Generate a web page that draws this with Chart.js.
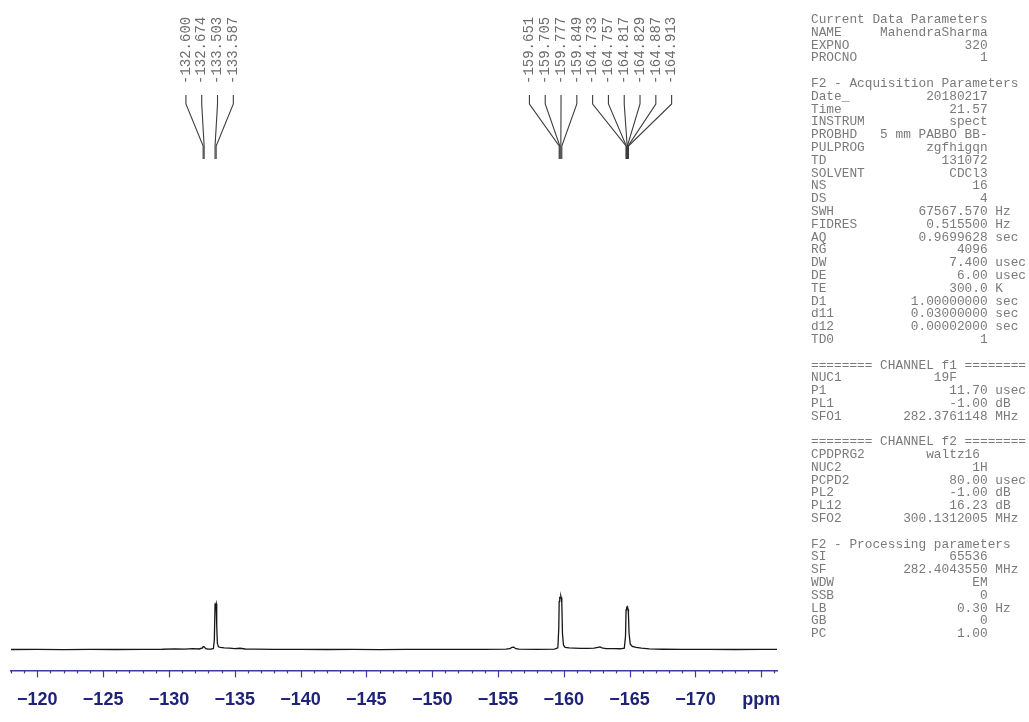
<!DOCTYPE html>
<html>
<head>
<meta charset="utf-8">
<script src="https://cdn.jsdelivr.net/npm/chart.js@4.4.1/dist/chart.umd.min.js"></script>
<style>
  html, body { margin: 0; padding: 0; background: #ffffff; }
  #wrap { position: relative; width: 1029px; height: 722px; overflow: hidden; }
  #params {
    position: absolute; left: 811px; top: 14px; margin: 0;
    font: 12.8px/12.8px "Liberation Mono", "DejaVu Sans Mono", monospace;
    color: #7a7a7a; white-space: pre;
  }
</style>
</head>
<body>
<div id="wrap">
  <canvas id="spectrum" width="1029" height="722"></canvas>
  <pre id="params"></pre>
</div>
<script>
// 19F spectrum: chemical shift (ppm) and intensity (tallest line = 100)
const shiftPpm = [
  -118.0, -120.0, -122.0, -124.0, -126.0, -128.0, -129.5, -130.5, -131.2, -131.8,
  -132.3, -132.55, -132.600, -132.674, -132.80, -132.95, -133.2, -133.38, -133.45, -133.503,
  -133.545, -133.587, -133.63, -133.68, -133.76, -133.9, -134.2, -134.6, -135.0, -135.4,
  -135.8, -136.5, -138.0, -140.0, -142.0, -144.0, -146.0, -148.0, -150.0, -152.0,
  -154.0, -155.6, -155.9, -156.05, -156.2, -156.35, -156.6, -158.0, -159.3, -159.55,
  -159.62, -159.651, -159.68, -159.705, -159.74, -159.777, -159.81, -159.849, -159.9, -159.98,
  -160.1, -160.4, -160.8, -161.3, -161.8, -162.3, -162.6, -162.75, -162.9, -163.2,
  -163.8, -164.3, -164.6, -164.69, -164.733, -164.757, -164.79, -164.817, -164.829, -164.86,
  -164.887, -164.913, -164.96, -165.05, -165.2, -165.5, -165.9, -166.5, -167.5, -169.0,
  -171.0, -173.0, -175.0, -176.2
];
const intensity = [
  0.0, 0.3, -0.2, 0.4, 0.0, 0.3, 0.5, 1.2, 0.8, 1.5,
  1.0, 3.0, 5.5, 5.0, 1.5, 1.0, 0.8, 2.0, 18, 84,
  83, 86, 45, 12, 5, 4, 3, 2.5, 1.8, 2.4,
  1.0, 0.6, 0.2, 0.4, 0.0, 0.3, -0.1, 0.3, 0.1, 0.4,
  0.2, 0.6, 1.5, 4.0, 4.5, 1.5, 0.6, 0.4, 0.6, 3.0,
  40, 90, 95, 97, 96.5, 100, 97, 88, 30, 8,
  4, 3, 2.5, 2.0, 2.0, 2.5, 4.0, 4.8, 3.0, 1.8,
  1.5, 1.4, 2.5, 25, 74, 78, 77.5, 80, 81, 79,
  75, 66, 30, 10, 6, 4, 2.5, 1.2, 0.5, 0.2,
  0.4, 0.0, 0.3, 0.1
];

// picked peak positions (ppm), two label groups
const peakGroupA = [-132.600, -132.674, -133.503, -133.587];
const peakGroupB = [-159.651, -159.705, -159.777, -159.849, -164.733,
                    -164.757, -164.817, -164.829, -164.887, -164.913];

// axis range and labelling
const shiftMin = -176.2;
const shiftMax = -118.0;
const majorTickStep = 5;
const unitTickValue = -175;
const unitLabel = 'ppm';

// acquisition / processing parameter listing
const paramRows = [
  ['Current Data Parameters'],
  ['NAME', 'MahendraSharma'],
  ['EXPNO', '320'],
  ['PROCNO', '1'],
  [],
  ['F2 - Acquisition Parameters'],
  ['Date_', '20180217'],
  ['Time', '21.57'],
  ['INSTRUM', 'spect'],
  ['PROBHD', '5 mm PABBO BB-'],
  ['PULPROG', 'zgfhigqn'],
  ['TD', '131072'],
  ['SOLVENT', 'CDCl3'],
  ['NS', '16'],
  ['DS', '4'],
  ['SWH', '67567.570', 'Hz'],
  ['FIDRES', '0.515500', 'Hz'],
  ['AQ', '0.9699628', 'sec'],
  ['RG', '4096'],
  ['DW', '7.400', 'usec'],
  ['DE', '6.00', 'usec'],
  ['TE', '300.0', 'K'],
  ['D1', '1.00000000', 'sec'],
  ['d11', '0.03000000', 'sec'],
  ['d12', '0.00002000', 'sec'],
  ['TD0', '1'],
  [],
  ['======== CHANNEL f1 ========'],
  ['NUC1', '19F    '],
  ['P1', '11.70', 'usec'],
  ['PL1', '-1.00', 'dB'],
  ['SFO1', '282.3761148', 'MHz'],
  [],
  ['======== CHANNEL f2 ========'],
  ['CPDPRG2', 'waltz16 '],
  ['NUC2', '1H'],
  ['PCPD2', '80.00', 'usec'],
  ['PL2', '-1.00', 'dB'],
  ['PL12', '16.23', 'dB'],
  ['SFO2', '300.1312005', 'MHz'],
  [],
  ['F2 - Processing parameters'],
  ['SI', '65536'],
  ['SF', '282.4043550', 'MHz'],
  ['WDW', 'EM'],
  ['SSB', '0'],
  ['LB', '0.30', 'Hz'],
  ['GB', '0'],
  ['PC', '1.00']
];

const FIELD = 23;
document.getElementById('params').textContent = paramRows.map(r => {
  if (r.length === 0) return '';
  if (r.length === 1) return r[0];
  const line = r[0] + r[1].padStart(FIELD - r[0].length);
  return r[2] ? line + ' ' + r[2] : line;
}).join('\n');

// minor/major tick marks hanging below the shift axis
const tickMarks = {
  id: 'tickMarks',
  afterDraw(chart) {
    const s = chart.scales.x, ctx = chart.ctx, y0 = chart.chartArea.bottom;
    ctx.save();
    ctx.strokeStyle = '#3a3c9c';
    ctx.lineWidth = 1.2;
    s.ticks.forEach(t => {
      const px = Math.round(s.getPixelForValue(t.value)) + 0.5;
      const major = Math.abs(Math.round(t.value)) % majorTickStep === 0;
      ctx.beginPath();
      ctx.moveTo(px, y0);
      ctx.lineTo(px, y0 + (major ? 7 : 3));
      ctx.stroke();
    });
    ctx.restore();
  }
};

// rotated peak-pick labels with fan-in connectors to each line position
const peakLabels = {
  id: 'peakLabels',
  afterDatasetsDraw(chart) {
    const s = chart.scales.x, ctx = chart.ctx;
    const gap = 15.8;
    ctx.save();
    [peakGroupA, peakGroupB].forEach(group => {
      const px = group.map(v => s.getPixelForValue(v));
      const center = px.reduce((a, b) => a + b, 0) / px.length;
      group.forEach((v, i) => {
        const lx = center + (i - (group.length - 1) / 2) * gap;
        ctx.strokeStyle = '#3c3c3c';
        ctx.lineWidth = 1.1;
        ctx.beginPath();
        ctx.moveTo(lx, 95);
        ctx.lineTo(lx, 104);
        ctx.lineTo(px[i], 146);
        ctx.lineTo(px[i], 159);
        ctx.stroke();

        ctx.save();
        ctx.translate(lx, 84);
        ctx.rotate(-Math.PI / 2);
        ctx.font = '14px "Liberation Mono", monospace';
        ctx.fillStyle = '#6c6c6c';
        ctx.textAlign = 'left';
        ctx.textBaseline = 'middle';
        ctx.fillText(v.toFixed(3), 0, 0);
        ctx.restore();
      });
    });
    ctx.restore();
  }
};

new Chart(document.getElementById('spectrum'), {
  type: 'line',
  data: {
    datasets: [{
      data: shiftPpm.map((p, i) => ({ x: p, y: intensity[i] })),
      borderColor: '#161616',
      borderWidth: 1.3,
      pointRadius: 0,
      tension: 0,
      fill: false
    }]
  },
  options: {
    responsive: false,
    animation: false,
    devicePixelRatio: 1,
    layout: { padding: { left: 11, right: 252, top: 165, bottom: 0 } },
    plugins: { legend: { display: false }, tooltip: { enabled: false } },
    scales: {
      x: {
        type: 'linear',
        reverse: true,
        min: shiftMin,
        max: shiftMax,
        grid: { display: false },
        border: { display: true, color: '#3a3c9c', width: 1.5 },
        ticks: {
          stepSize: 1,
          autoSkip: false,
          includeBounds: false,
          maxRotation: 0,
          padding: 11,
          color: '#1f2378',
          font: { family: '"Liberation Sans", Arial, sans-serif', size: 18, weight: 'bold' },
          callback: (v) => {
            const n = Math.round(v);
            if (n % majorTickStep !== 0) return '';
            return n === unitTickValue ? unitLabel : '\u2212' + Math.abs(n);
          }
        }
      },
      y: { display: false, min: -39, max: 905 }
    }
  },
  plugins: [tickMarks, peakLabels]
});
</script>
</body>
</html>
